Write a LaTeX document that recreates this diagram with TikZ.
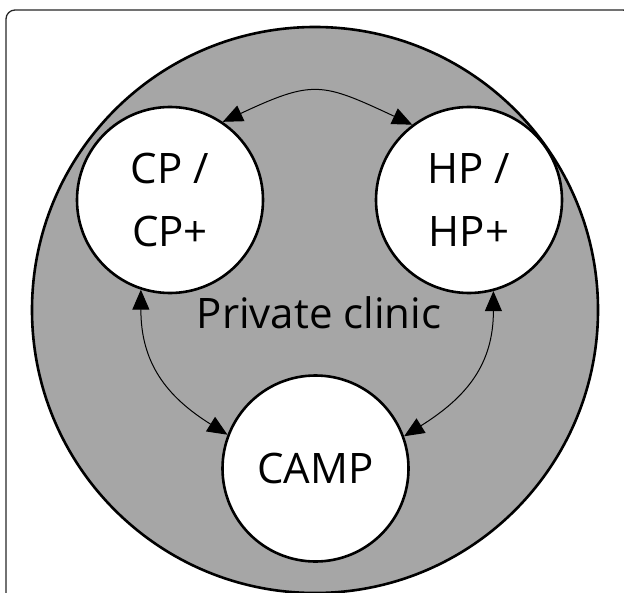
\documentclass[tikz,border=0pt]{standalone}
\usepackage{fontspec}
\setmainfont{Open Sans}
\usetikzlibrary{arrows.meta}
\definecolor{clinicgray}{RGB}{166,166,166}
\tikzset{
  frame/.style={draw=black!85, line width=1.3bp, rounded corners=9bp},
  bigcircle/.style={circle, draw=black, fill=clinicgray, line width=2.6bp, minimum size=566bp, inner sep=0pt},
  actor/.style={circle, draw=black, fill=white, line width=2.6bp, minimum size=186bp, inner sep=0pt, align=center, font=\fontsize{42bp}{63bp}\selectfont},
  lbl/.style={font=\fontsize{42bp}{63bp}\selectfont, inner sep=0pt},
  link/.style={line width=1bp, {Triangle[length=20bp,width=17bp]}-{Triangle[length=20bp,width=17bp]}}
}
\begin{document}
\begin{tikzpicture}[x=1bp,y=1bp]
\useasboundingbox (0,0) rectangle (624,-593);
\clip (0,0) rectangle (624,-593);
\draw[frame] (6,-10) rectangle (632,-620);
\node[bigcircle] (clinic) at (315,-310) {};
\node[actor] (cp) at (170,-200) {CP /\\CP+};
\node[actor] (hp) at (469,-200) {HP /\\HP+};
\node[actor] (camp) at (315.5,-468.5) {CAMP};
\node[lbl] (pc) at (319,-313) {Private clinic};
\draw[link] (cp.56) to[out=25,in=155,looseness=1.35] (hp.127);
\draw[link] (cp.-108) to[out=-90,in=148,looseness=1.1] (camp.159);
\draw[link] (hp.-75.5) to[out=-90,in=32,looseness=1.1] (camp.20);
\end{tikzpicture}
\end{document}
